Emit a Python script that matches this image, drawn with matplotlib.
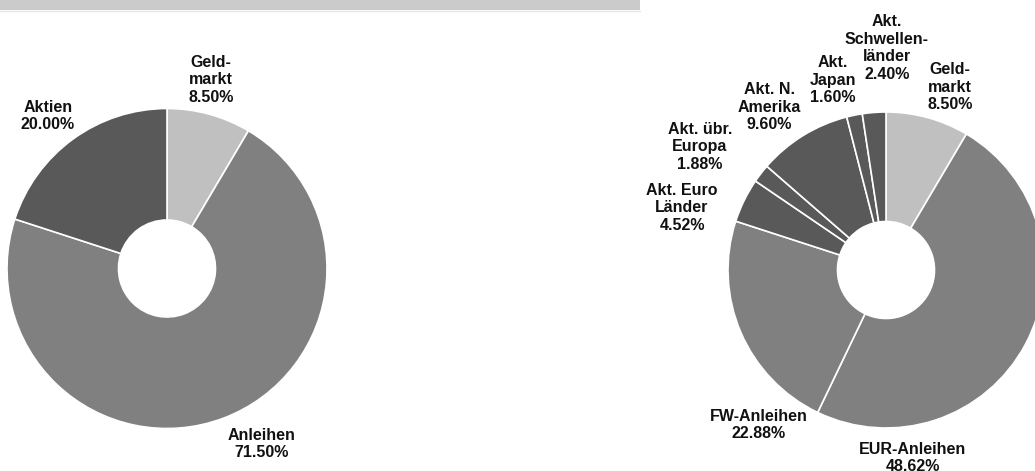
import matplotlib.pyplot as plt
from matplotlib.patches import Rectangle

plt.rcParams['font.family'] = ['Liberation Sans', 'DejaVu Sans']

# Grobe Aufteilung
coarse_names = ["Geld-\nmarkt", "Anleihen", "Aktien"]
coarse_values = [8.50, 71.50, 20.00]
coarse_colors = ["#c0c0c0", "#808080", "#595959"]

# Feine Aufteilung
detail_names = ["Geld-\nmarkt", "EUR-Anleihen", "FW-Anleihen", "Akt. Euro\nLänder",
                "Akt. übr.\nEuropa", "Akt. N.\nAmerika", "Akt.\nJapan",
                "Akt.\nSchwellen-\nländer"]
detail_values = [8.50, 48.62, 22.88, 4.52, 1.88, 9.60, 1.60, 2.40]
detail_colors = ["#c0c0c0", "#808080", "#808080", "#595959", "#595959",
                 "#595959", "#595959", "#595959"]

W, H = 1035, 471

# label anchors in pixels (from top-left)
coarse_label_pos = [(211, 80), (262, 444), (48, 116)]
detail_label_pos = [(950, 87), (913, 458), (759, 425), (682, 208), (700, 147),
                    (769, 107), (833, 80), (887, 48)]

fig = plt.figure(figsize=(W / 100, H / 100), dpi=100)
ax = fig.add_axes([0, 0, 1, 1])


def donut(values, colors, center, radius, hole):
    ax.pie(values, colors=colors, startangle=90, counterclock=False,
           center=(center[0], H - center[1]), radius=radius,
           wedgeprops=dict(width=radius - hole, edgecolor="white", linewidth=1.2))


def labels(names, values, positions):
    for name, v, (x, y) in zip(names, values, positions):
        ax.text(x, H - y, f"{name}\n{v:.2f}%", ha="center", va="center",
                multialignment="center", fontsize=11.5, fontweight="bold",
                linespacing=1.2, color="#111111")


donut(coarse_values, coarse_colors, (167, 268.5), 160, 48.5)
donut(detail_values, detail_colors, (886, 270), 158, 48.5)
labels(coarse_names, coarse_values, coarse_label_pos)
labels(detail_names, detail_values, detail_label_pos)

# grey band along the top
ax.add_patch(Rectangle((0, H - 10), 640, 10, color="#cbcbcb", lw=0))
ax.plot([0, 640], [H - 10.5, H - 10.5], color="#e6e6e6", lw=1)

ax.set_xlim(0, W)
ax.set_ylim(0, H)
ax.set_aspect("auto")
ax.axis("off")

fig.savefig("out.png", dpi=100)
